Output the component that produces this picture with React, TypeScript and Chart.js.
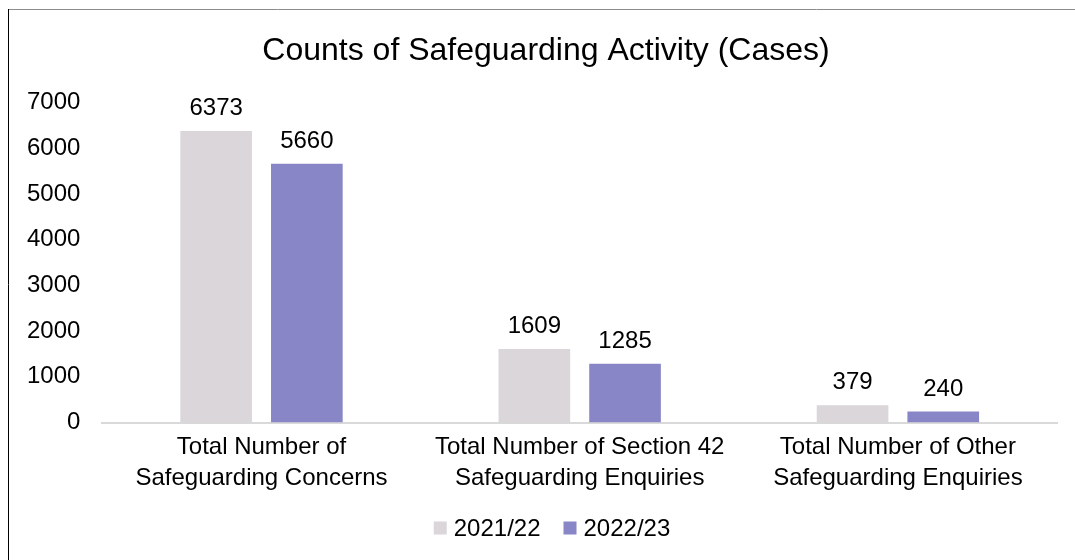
import React, { useEffect, useRef } from "react";
import { Chart, registerables } from "chart.js";

Chart.register(...registerables);

const categories: string[][] = [
  ["Total Number of", "Safeguarding Concerns"],
  ["Total Number of Section 42", "Safeguarding Enquiries"],
  ["Total Number of Other", "Safeguarding Enquiries"],
];
const seriesNames = ["2021/22", "2022/23"];
const seriesColors = ["#dad6da", "#8886c6"];
const values2122 = [6373, 1609, 379];
const values2223 = [5660, 1285, 240];
const yTicks = [0, 1000, 2000, 3000, 4000, 5000, 6000, 7000];
const titleText = "Counts of Safeguarding Activity (Cases)";

const FONT = "Arial, 'Liberation Sans', sans-serif";
const FS = 24;

const dataLabels = {
  id: "dataLabels",
  afterDatasetsDraw(chart: any) {
    const ctx = chart.ctx;
    ctx.save();
    ctx.font = `${FS}px ${FONT}`;
    ctx.fillStyle = "#000";
    ctx.textAlign = "center";
    ctx.textBaseline = "alphabetic";
    chart.data.datasets.forEach((ds: any, i: number) => {
      const meta = chart.getDatasetMeta(i);
      meta.data.forEach((bar: any, j: number) => {
        ctx.fillText(String(ds.data[j]), bar.x, bar.y - 16);
      });
    });
    ctx.restore();
  },
};

const customTitle = {
  id: "customTitle",
  afterDraw(chart: any) {
    const ctx = chart.ctx;
    ctx.save();
    ctx.font = `32px ${FONT}`;
    ctx.fillStyle = "#000";
    ctx.textAlign = "center";
    ctx.textBaseline = "middle";
    ctx.fillText(titleText, 538, 42);
    ctx.restore();
  },
};

const customLegend = {
  id: "customLegend",
  afterDraw(chart: any) {
    const ctx = chart.ctx;
    ctx.save();
    ctx.font = `${FS}px ${FONT}`;
    const box = 13;
    const gap = 7;
    const spacing = 23;
    const widths = seriesNames.map((n) => ctx.measureText(n).width);
    const total = widths.reduce((a, w) => a + box + gap + w, 0) + spacing * (seriesNames.length - 1);
    let x = 544 - total / 2;
    const cy = chart.height - 32;
    ctx.textBaseline = "middle";
    ctx.textAlign = "left";
    seriesNames.forEach((n, i) => {
      ctx.fillStyle = seriesColors[i];
      ctx.fillRect(x, cy - box / 2, box, box);
      x += box + gap;
      ctx.fillStyle = "#000";
      ctx.fillText(n, x, cy + 1);
      x += widths[i] + spacing;
    });
    ctx.restore();
  },
};

const frame = {
  id: "frame",
  afterDraw(chart: any) {
    const ctx = chart.ctx;
    ctx.save();
    ctx.lineWidth = 1;
    ctx.strokeStyle = "#8c8c8c";
    ctx.beginPath();
    ctx.moveTo(0, 0.5);
    ctx.lineTo(chart.width, 0.5);
    ctx.stroke();
    ctx.strokeStyle = "#000";
    ctx.beginPath();
    ctx.moveTo(0.5, 0);
    ctx.lineTo(0.5, chart.height);
    ctx.stroke();
    ctx.restore();
  },
};

export default function App() {
  const ref = useRef<HTMLCanvasElement>(null);
  useEffect(() => {
    document.body.style.margin = "0";
    const chart = new Chart(ref.current!, {
      type: "bar",
      data: {
        labels: categories,
        datasets: [
          {
            label: seriesNames[0],
            data: values2122,
            backgroundColor: seriesColors[0],
            categoryPercentage: 0.57,
            barPercentage: 0.79,
          },
          {
            label: seriesNames[1],
            data: values2223,
            backgroundColor: seriesColors[1],
            categoryPercentage: 0.57,
            barPercentage: 0.79,
          },
        ],
      },
      options: {
        animation: false,
        responsive: false,
        maintainAspectRatio: false,
        layout: { padding: { left: -3, right: 29, top: 24, bottom: 57 } },
        plugins: {
          title: {
            display: true,
            text: titleText,
            color: "rgba(0,0,0,0)",
            font: { family: FONT, size: 32, weight: "normal" },
            padding: { top: 0, bottom: 31 },
          },
          legend: { display: false },
          tooltip: { enabled: false },
        },
        scales: {
          x: {
            grid: { display: false, drawTicks: false },
            border: { display: true, color: "#d9d9d9", width: 2 },
            ticks: {
              color: "#000",
              font: { family: FONT, size: FS, lineHeight: 1.3 },
              padding: 9,
              maxRotation: 0,
              autoSkip: false,
            },
          },
          y: {
            min: 0,
            max: 7000,
            afterBuildTicks: (axis: any) => {
              axis.ticks = yTicks.map((v) => ({ value: v }));
            },
            grid: { display: false, drawTicks: false },
            border: { display: false },
            ticks: {
              color: "#000",
              font: { family: FONT, size: FS },
              padding: 22,
              callback: (v: any) => String(v),
            },
          },
        },
      },
      plugins: [dataLabels, customTitle, customLegend, frame],
    });
    return () => chart.destroy();
  }, []);
  return (
    <div style={{ width: 1075, height: 560, overflow: "hidden", position: "relative", background: "#fff" }}>
      <canvas ref={ref} width={1078} height={551} style={{ position: "absolute", left: 8, top: 9 }} />
    </div>
  );
}
